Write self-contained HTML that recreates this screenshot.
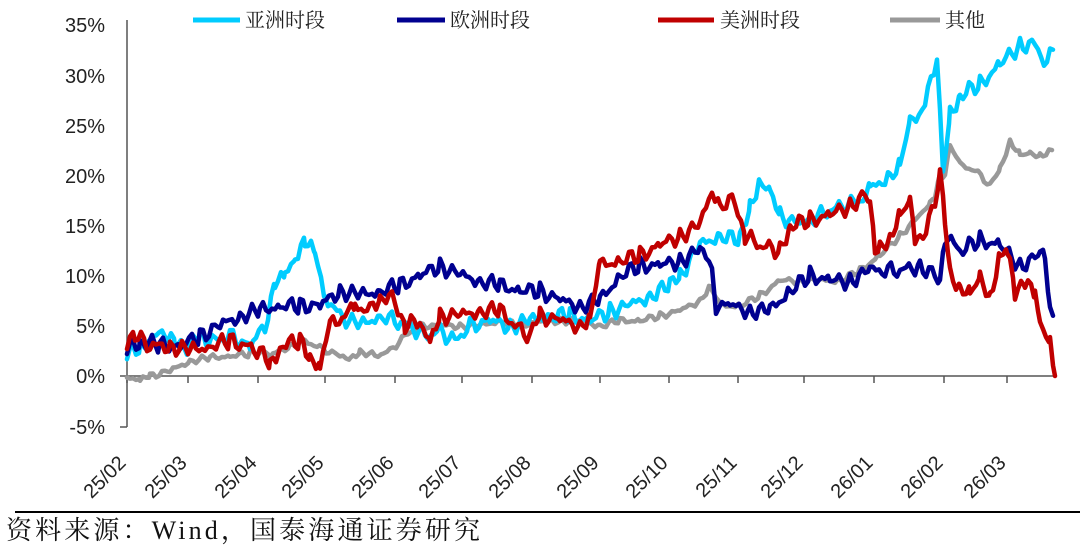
<!DOCTYPE html>
<html><head><meta charset="utf-8"><style>
body{margin:0;background:#fff;width:1080px;height:554px;overflow:hidden}
</style></head><body>
<svg id="s" width="1080" height="554" xmlns="http://www.w3.org/2000/svg" font-family="Liberation Sans, sans-serif">
<g font-size="20" fill="#222" text-anchor="end">
<text x="105" y="32">35%</text><text x="105" y="83">30%</text><text x="105" y="133">25%</text>
<text x="105" y="183">20%</text><text x="105" y="233">15%</text><text x="105" y="283">10%</text>
<text x="105" y="333">5%</text><text x="105" y="383">0%</text><text x="105" y="434">-5%</text>
</g>
<g stroke="#555" stroke-width="1.5" fill="none">
<line x1="127" y1="20" x2="127" y2="427"/>
<line x1="120" y1="427" x2="127" y2="427"/>
<line x1="120" y1="376" x2="1055" y2="376"/>
<g id="ticks"></g>
</g>
<g id="xl" font-size="20" fill="#222"></g>
<g id="series" fill="none" stroke-width="4.5" stroke-linejoin="round" stroke-linecap="round"></g>
<g font-family="Liberation Serif, Noto Serif CJK SC, serif" font-size="20" fill="#222">
<line x1="193" y1="20" x2="240" y2="20" stroke="#00CCFF" stroke-width="5"/><text x="245" y="27">亚洲时段</text>
<line x1="397" y1="20" x2="445" y2="20" stroke="#000090" stroke-width="5"/><text x="450" y="27">欧洲时段</text>
<line x1="658" y1="20" x2="714" y2="20" stroke="#C00000" stroke-width="5"/><text x="720" y="27">美洲时段</text>
<line x1="890" y1="20" x2="940" y2="20" stroke="#999" stroke-width="5"/><text x="945" y="27">其他</text>
</g>
<line x1="15" y1="512" x2="1080" y2="512" stroke="#000" stroke-width="2"/>
<text x="6" y="539" font-family="Liberation Serif, Noto Serif CJK SC, serif" font-size="26" fill="#111" textLength="474" lengthAdjust="spacing">资料来源：Wind，国泰海通证券研究</text>
</svg>
<script>
var ns="http://www.w3.org/2000/svg";
function Y(p){return 376-p*10.04;}
var tx=[127,188,258,325,395,462,532,600,669,738,804,874,944,1007];
var lb=["25/02","25/03","25/04","25/05","25/06","25/07","25/08","25/09","25/10","25/11","25/12","26/01","26/02","26/03"];
var t=document.getElementById("ticks"),xl=document.getElementById("xl");
tx.forEach(function(x,i){
 var l=document.createElementNS(ns,"line");l.setAttribute("x1",x);l.setAttribute("x2",x);l.setAttribute("y1",376);l.setAttribute("y2",383);t.appendChild(l);
 var tt=document.createElementNS(ns,"text");tt.setAttribute("transform","translate("+(x+0)+",464) rotate(-45)");tt.setAttribute("text-anchor","end");tt.textContent=lb[i];xl.appendChild(tt);
});
var S={
"#999":[127,0,140,-.5,150,0,170,.5,190,1.5,210,1.8,230,2,250,2.2,262,2.5,270,2,290,3,305,3.5,320,2.8,340,2,350,1.5,360,2.5,375,2,390,2.5,405,4,420,5,440,5,460,5,480,5,500,5.5,520,5,540,5.5,560,5.5,580,5.5,600,5,620,5.5,640,5.5,660,6,680,6.5,700,7.5,710,9,720,7,740,7,760,8,780,9.5,800,9.5,820,9.5,840,9.5,860,10.5,880,12,900,14,920,16,930,17,935,18,940,20,945,20,950,23,960,21,975,20.5,990,19,1000,20.5,1010,23.5,1020,22,1030,22,1040,22,1052,22.5],
"#00CCFF":[127,2,140,3,150,3.5,165,4.5,175,3,190,3,200,4,215,3.5,230,4,250,3,265,5,275,9,285,10,295,12,305,13.5,315,12,325,8,340,6,360,5,380,6,395,5.5,410,5,425,4,440,4.5,455,3.5,470,5,490,5.5,510,5,530,5.5,550,6,570,6,590,5.5,610,6.5,630,7,650,8,670,9,680,10,700,13,720,14,740,13.5,750,17,760,19.5,770,18,780,16,800,15,830,16.5,860,17.5,870,18.5,890,20,900,21,910,25,925,27,937,32,943,20,950,26,960,28,980,29,1000,31,1020,33,1035,33,1047,31,1053,32.5],
"#000090":[127,2.5,140,3.5,160,3,180,3,200,4,220,5,240,6,260,6.5,280,7,300,7,320,7,340,8.5,360,8,380,8.5,400,9,420,10,440,11,460,10,480,9.5,500,9,520,8.5,540,8.5,560,7.5,580,7,600,7.5,620,10,640,11,660,11,680,11.5,700,12.5,712,11,716,7,730,7,750,6.5,770,6.5,790,8.5,810,10,830,9.5,850,9.5,870,10.5,900,10.5,920,11,935,10,940,9,945,14,960,12.5,980,13.5,1000,13,1020,11,1040,12,1045,12.5,1050,6,1053,6],
"#C00000":[127,3,135,4,150,3,170,3,190,2.5,210,3,230,3.5,260,2.5,270,1,280,3,300,3.5,310,2,320,1,330,5,345,6,355,7,370,6.5,380,8,395,7.5,405,5,420,5.5,430,3,440,6,460,6,480,6.5,500,6.5,515,5,530,4,540,6,560,5.5,580,5,590,6,600,11,620,11.5,640,12,660,13,680,14,700,15,712,18.5,720,17,735,17.5,745,14,760,13,780,12.5,790,15,810,15.5,830,16,850,17,865,18,870,17,875,13,880,12.5,890,14,900,16,910,17,915,14,920,13.5,935,17,940,20,945,16,950,10,960,9,970,8,980,9.5,990,8,1000,12,1007,12.5,1015,8.5,1025,9,1035,8.5,1040,5,1050,3,1055,0]};
var g=document.getElementById("series");
for(var c in S){var a=S[c],pts=[];
 for(var i=0;i<a.length-2;i+=2){var x0=a[i],y0=a[i+1],x1=a[i+2],y1=a[i+3];
  for(var x=x0;x<x1;x+=3){var f=(x-x0)/(x1-x0);var j=(Math.sin(x*1.7+c.length)*0.5+Math.sin(x*0.63)*0.4)*(c=="#999"?0.4:1);pts.push(x+","+Y(y0+(y1-y0)*f+j).toFixed(1));}}
 pts.push(a[a.length-2]+","+Y(a[a.length-1]));
 var p=document.createElementNS(ns,"polyline");p.setAttribute("points",pts.join(" "));p.setAttribute("stroke",c);g.appendChild(p);}
</script>
</body></html>
